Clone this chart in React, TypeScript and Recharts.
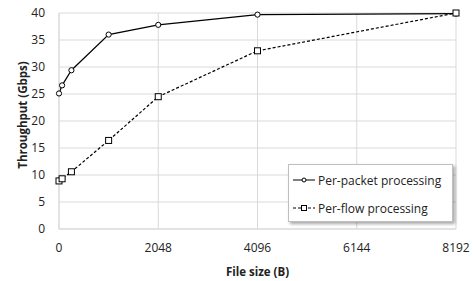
import React from 'react';
import { LineChart, Line, XAxis, YAxis, CartesianGrid } from 'recharts';

const fileSizes = [0, 64, 256, 1024, 2048, 4096, 8192];
const perPacket = [25.1, 26.6, 29.4, 36.0, 37.8, 39.7, 39.9];
const perFlow = [8.9, 9.3, 10.6, 16.4, 24.5, 33.0, 40.0];
const xTicks = [0, 2048, 4096, 6144, 8192];
const yTicks = [0, 5, 10, 15, 20, 25, 30, 35, 40];
const seriesNames = ['Per-packet processing', 'Per-flow processing'];

const data = fileSizes.map((s, i) => ({ size: s, packet: perPacket[i], flow: perFlow[i] }));

const FONT = '"Open Sans", sans-serif';

const CircleDot = (props: any) => {
  const { cx, cy } = props;
  if (cx == null || cy == null) return null;
  return <circle cx={cx} cy={cy} r={2.6} fill="#fff" stroke="#000" strokeWidth={1} />;
};

const SquareDot = (props: any) => {
  const { cx, cy } = props;
  if (cx == null || cy == null) return null;
  return <rect x={cx - 3} y={cy - 3} width={6} height={6} fill="#fff" stroke="#000" strokeWidth={1} />;
};

const LegendBox = () => (
  <div
    style={{
      position: 'absolute',
      left: 288,
      top: 164,
      background: '#fff',
      border: '1px solid #bfbfbf',
      boxShadow: '2px 2px 3px rgba(0,0,0,0.35)',
      width: 165,
      height: 58,
      boxSizing: 'border-box',
      fontFamily: FONT,
      fontSize: 12,
      color: '#222',
      paddingLeft: 4,
      paddingTop: 1,
    }}
  >
    {[0, 1].map((i) => (
      <div key={i} style={{ display: 'flex', alignItems: 'center', height: 28, whiteSpace: 'nowrap' }}>
        <svg width={23} height={10} style={{ marginRight: 2 }}>
          <line x1={0} y1={5} x2={22} y2={5} stroke="#000" strokeWidth={1} strokeDasharray={i === 0 ? undefined : '3 2'} />
          {i === 0 ? (
            <circle cx={11} cy={5} r={2} fill="#fff" stroke="#000" strokeWidth={1} />
          ) : (
            <rect x={8.5} y={2.5} width={5} height={5} fill="#fff" stroke="#000" strokeWidth={1} />
          )}
        </svg>
        <span>{seriesNames[i]}</span>
      </div>
    ))}
  </div>
);

export default function App() {
  return (
    <div style={{ position: 'absolute', left: 0, top: 0, width: 473, height: 281, background: '#fff' }}>
      <LineChart width={473} height={281} data={data} margin={{ top: 13, right: 17, left: 0, bottom: 0 }}>
        <CartesianGrid stroke="#d9d9d9" strokeWidth={1} />
        <XAxis
          dataKey="size"
          type="number"
          domain={[0, 8192]}
          ticks={xTicks}
          height={52}
          tickLine={false}
          axisLine={{ stroke: '#d9d9d9' }}
          tickMargin={8}
          tick={{ fill: '#222', fontSize: 12, fontFamily: FONT }}
          label={{ value: 'File size (B)', position: 'insideBottom', offset: 5, style: { fontFamily: FONT, fontSize: 11.5, fontWeight: 'bold', fill: '#222' } }}
        />
        <YAxis
          type="number"
          domain={[0, 40]}
          ticks={yTicks}
          width={59}
          tickLine={false}
          axisLine={{ stroke: '#d9d9d9' }}
          tickMargin={8}
          tick={{ fill: '#222', fontSize: 12, fontFamily: FONT }}
          label={{ value: 'Throughput (Gbps)', angle: -90, position: 'center', dx: -7, dy: -6, style: { fontFamily: FONT, fontSize: 11.5, fontWeight: 'bold', fill: '#222' } }}
        />
        <Line
          type="linear"
          dataKey="packet"
          name={seriesNames[0]}
          stroke="#000"
          strokeWidth={1.2}
          dot={<CircleDot />}
          activeDot={false}
          isAnimationActive={false}
        />
        <Line
          type="linear"
          dataKey="flow"
          name={seriesNames[1]}
          stroke="#000"
          strokeWidth={1.2}
          strokeDasharray="3 2"
          dot={<SquareDot />}
          activeDot={false}
          isAnimationActive={false}
        />
      </LineChart>
      <LegendBox />
    </div>
  );
}
